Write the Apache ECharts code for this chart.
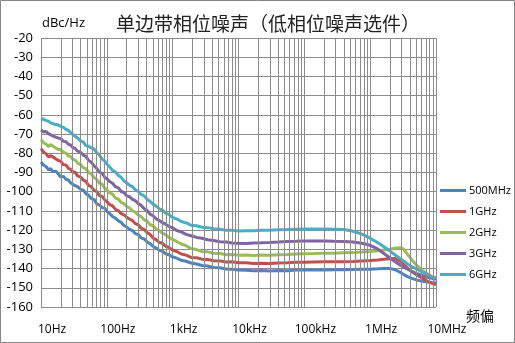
<!DOCTYPE html>
<html>
<head>
<meta charset="utf-8">
<script src="https://cdn.jsdelivr.net/npm/echarts@6/dist/echarts.min.js"></script>
<style>
  html, body { margin: 0; padding: 0; background: #fff; }
  #chart { width: 515px; height: 343px; }
</style>
</head>
<body>
<div id="chart"></div>
<script>
// Offset frequencies (Hz)
const freqs = [
  10, 11, 12, 13, 14, 15, 16, 17, 18, 20, 22, 24, 26, 28, 30, 33, 36, 40, 44, 48,
  53, 58, 64, 70, 77, 85, 93, 100, 110, 122, 135, 150, 165, 182, 200, 220, 245, 270, 300, 330,
  370, 410, 450, 500, 560, 620, 700, 780, 870, 1000, 1150, 1350, 1600, 1900, 2300, 2800, 3400, 4200, 5200, 6500,
  8000, 10000, 13000, 17000, 22000, 30000, 40000, 55000, 75000, 100000, 140000, 200000, 280000, 400000, 550000, 750000,
  1000000, 1300000, 1600000, 2000000, 2400000, 2800000, 3200000, 3700000, 4300000, 5200000, 6200000, 7500000, 8700000, 10000000
];

// SSB phase noise (dBc/Hz) per carrier
const pn500MHz = [
  -84.5, -86.2, -87.0, -88.6, -88.0, -89.6, -90.5, -89.4, -89.9, -92.3, -92.0, -93.6, -93.9, -95.3, -95.4, -96.9, -97.4, -98.8, -99.2, -101.0,
  -101.9, -103.6, -104.0, -106.2, -106.9, -108.3, -108.5, -110.2, -111.3, -112.9, -113.8, -115.2, -115.9, -117.6, -118.4, -119.5, -120.2, -121.8, -122.3, -124.0,
  -124.6, -126.2, -126.9, -128.4, -129.3, -130.4, -131.0, -132.3, -132.8, -133.9, -134.6, -135.7, -136.2, -137.1, -137.6, -138.4, -138.7, -139.4, -139.6, -140.2,
  -140.3, -140.8, -140.9, -141.1, -141.0, -141.2, -141.0, -141.1, -140.8, -140.8, -140.7, -140.7, -140.6, -140.6, -140.5, -140.4,
  -140.3, -140.1, -139.9, -139.9, -140.6, -141.8, -143.0, -144.2, -145.1, -146.0, -146.6, -147.0, -147.3, -147.5
];
const pn1GHz = [
  -77.6, -79.4, -80.3, -81.9, -81.2, -80.8, -82.4, -82.9, -83.6, -84.2, -86.0, -86.1, -87.8, -88.3, -89.5, -90.0, -91.8, -92.4, -94.0, -94.6,
  -96.8, -97.4, -99.3, -99.9, -102.0, -102.4, -104.3, -105.1, -106.7, -107.3, -109.2, -109.9, -111.4, -112.0, -113.3, -114.2, -115.0, -116.6, -117.2, -118.9,
  -119.6, -121.4, -122.1, -124.0, -124.9, -126.3, -126.8, -128.4, -128.9, -130.4, -131.1, -132.4, -133.0, -134.2, -134.4, -135.1, -135.3, -135.9, -136.0, -136.6,
  -136.5, -137.0, -137.0, -137.3, -137.2, -137.3, -137.1, -137.0, -136.7, -136.7, -136.6, -136.5, -136.5, -136.4, -136.3, -136.0,
  -135.8, -135.5, -135.2, -134.9, -134.8, -136.0, -137.8, -139.8, -141.7, -143.4, -145.0, -146.6, -147.7, -148.5
];
const pn2GHz = [
  -72.9, -74.6, -75.3, -76.6, -75.4, -75.2, -76.8, -77.0, -77.9, -78.2, -79.6, -79.9, -81.4, -81.6, -82.9, -83.5, -85.1, -85.9, -87.6, -88.0,
  -90.1, -90.8, -92.6, -93.6, -95.5, -96.1, -98.2, -98.9, -100.6, -101.3, -103.3, -103.9, -105.6, -106.2, -107.7, -108.4, -109.9, -110.6, -112.1, -112.9,
  -114.6, -115.3, -117.0, -117.8, -119.4, -120.2, -121.6, -122.3, -123.8, -124.8, -125.9, -127.2, -128.1, -129.6, -130.1, -131.1, -131.3, -132.0, -132.2, -132.8,
  -132.7, -133.1, -133.0, -133.2, -133.0, -133.1, -132.8, -132.7, -132.4, -132.3, -132.2, -132.0, -132.0, -131.8, -131.7, -131.4,
  -131.1, -130.7, -130.3, -129.9, -129.4, -129.1, -129.8, -132.6, -135.5, -138.6, -140.8, -142.9, -144.2, -145.0
];
const pn3GHz = [
  -67.9, -68.9, -68.7, -69.8, -70.4, -70.1, -71.3, -71.0, -72.0, -72.4, -73.8, -74.0, -75.3, -75.6, -76.8, -77.5, -78.9, -79.4, -81.0, -81.6,
  -83.7, -84.6, -86.6, -87.8, -89.8, -90.4, -92.5, -93.2, -94.7, -95.6, -97.4, -98.0, -99.9, -100.4, -102.1, -102.6, -104.0, -104.6, -106.2, -107.0,
  -108.9, -109.7, -111.6, -112.4, -114.1, -114.9, -116.1, -116.9, -118.0, -118.8, -120.2, -120.9, -122.2, -122.9, -123.8, -124.2, -125.0, -125.4, -126.0, -126.2,
  -126.7, -126.8, -126.9, -126.7, -126.6, -126.4, -126.2, -125.9, -125.8, -125.7, -125.7, -125.7, -125.8, -125.9, -126.2, -126.8,
  -127.9, -129.8, -132.0, -134.5, -136.5, -138.0, -139.2, -140.3, -141.4, -142.7, -143.6, -144.5, -145.1, -145.6
];
const pn6GHz = [
  -61.9, -62.4, -63.0, -63.3, -64.2, -63.9, -64.9, -65.0, -65.2, -66.0, -66.5, -67.6, -68.0, -69.2, -69.6, -71.2, -72.0, -73.6, -74.2, -76.0,
  -76.3, -77.2, -77.8, -79.6, -80.9, -83.1, -84.0, -85.6, -87.0, -88.9, -89.7, -91.6, -92.5, -94.4, -95.3, -96.6, -97.3, -99.0, -99.8, -101.4,
  -102.2, -104.0, -104.9, -106.4, -107.5, -108.8, -109.6, -111.1, -111.8, -113.4, -114.1, -115.5, -116.2, -117.4, -117.7, -118.5, -118.7, -119.3, -119.5, -120.0,
  -120.0, -120.4, -120.3, -120.3, -120.1, -120.1, -119.8, -119.7, -119.5, -119.4, -119.4, -119.4, -119.5, -119.7, -120.6, -122.1,
  -124.2, -126.5, -128.5, -130.9, -132.9, -134.6, -136.0, -137.6, -139.0, -140.4, -141.8, -143.3, -144.3, -145.0
];

const seriesNames = ['500MHz', '1GHz', '2GHz', '3GHz', '6GHz'];
const seriesValues = [pn500MHz, pn1GHz, pn2GHz, pn3GHz, pn6GHz];
const xTickLabels = ['10Hz', '100Hz', '1kHz', '10kHz', '100kHz', '1MHz', '10MHz'];

const palette = ['#4F81BD', '#C0504D', '#9BBB59', '#8064A2', '#4BACC6'];
const gridColor = '#8c8c8c';
const latinFont = '"Open Sans", "Noto Sans CJK SC", sans-serif';
const cjkFont = '"Noto Sans CJK SC", sans-serif';

// Minor log grid lines at 2..9 within every decade
const minorLines = [];
for (let d = 10; d < 1e7; d *= 10) {
  for (let k = 2; k <= 9; k++) minorLines.push({ xAxis: d * k });
}

const lineSeries = seriesNames.map((name, i) => ({
  name: name,
  type: 'line',
  data: freqs.map((f, j) => [f, seriesValues[i][j]]),
  showSymbol: false,
  symbol: 'none',
  z: 3,
  lineStyle: { color: palette[i], width: 3 },
  itemStyle: { color: palette[i] },
  emphasis: { disabled: true }
}));

const chart = echarts.init(document.getElementById('chart'), null, { renderer: 'canvas' });
chart.setOption({
  animation: false,
  backgroundColor: '#fff',
  grid: {
    left: 41, right: 79, top: 38, bottom: 36,
    containLabel: false,
    outerBoundsMode: 'none'
  },
  xAxis: {
    type: 'log',
    logBase: 10,
    min: 10,
    max: 1e7,
    splitNumber: 6,
    axisLine: { show: false },
    axisTick: { show: false },
    splitLine: { show: true, lineStyle: { color: gridColor, width: 1 } },
    axisLabel: {
      margin: 17,
      color: '#000',
      fontFamily: latinFont,
      fontSize: 12,
      padding: [0, 0, 0, 22],
      formatter: function (v) {
        const idx = Math.round(Math.log10(v)) - 1;
        return xTickLabels[idx] || '';
      }
    }
  },
  yAxis: {
    type: 'value',
    min: -160,
    max: -20,
    interval: 10,
    axisLine: { show: false },
    axisTick: { show: false },
    splitLine: { show: true, lineStyle: { color: gridColor, width: 1 } },
    axisLabel: { margin: 8, color: '#000', fontFamily: latinFont, fontSize: 13 }
  },
  legend: {
    orient: 'vertical',
    left: 440,
    top: 185,
    padding: 0,
    icon: 'rect',
    itemWidth: 26,
    itemHeight: 3,
    itemGap: 10,
    textStyle: { color: '#000', fontFamily: latinFont, fontSize: 11, padding: [0, 0, 0, -2] },
    data: seriesNames
  },
  graphic: [
    {
      type: 'rect', z: 100, silent: true,
      shape: { x: 0.5, y: 0.5, width: 514, height: 342 },
      style: { fill: 'none', stroke: '#868686', lineWidth: 1 }
    },
    {
      type: 'text', x: 268, y: 24, z: 100,
      style: { text: '单边带相位噪声（低相位噪声选件）', font: '19px ' + cjkFont, fill: '#222', textAlign: 'center', textVerticalAlign: 'middle' }
    },
    {
      type: 'text', x: 42, y: 23, z: 100,
      style: { text: 'dBc/Hz', font: '13px ' + latinFont, fill: '#000', textVerticalAlign: 'middle' }
    },
    {
      type: 'text', x: 466, y: 316, z: 100,
      style: { text: '频偏', font: '14px ' + cjkFont, fill: '#000', textVerticalAlign: 'middle' }
    }
  ],
  series: [
    {
      type: 'line',
      data: [],
      silent: true,
      z: 1,
      markLine: {
        silent: true,
        symbol: ['none', 'none'],
        label: { show: false },
        lineStyle: { color: gridColor, width: 1, type: 'solid' },
        emphasis: { disabled: true },
        animation: false,
        data: minorLines
      }
    }
  ].concat(lineSeries)
});
</script>
</body>
</html>
